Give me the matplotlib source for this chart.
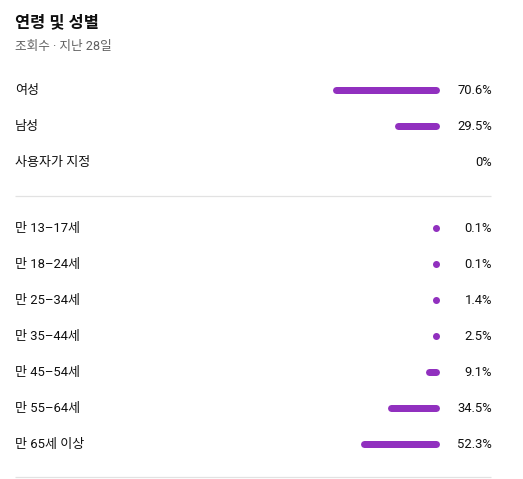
import matplotlib
matplotlib.use("Agg")
import matplotlib.pyplot as plt

title = "연령 및 성별"
subtitle = "조회수 · 지난 28일"
gender_labels = ["여성", "남성", "사용자가 지정"]
gender_values = [70.6, 29.5, 0.0]
age_labels = ["만 13–17세", "만 18–24세", "만 25–34세", "만 35–44세",
              "만 45–54세", "만 55–64세", "만 65세 이상"]
age_values = [0.1, 0.1, 1.4, 2.5, 9.1, 34.5, 52.3]
value_labels_gender = ["70.6%", "29.5%", "0%"]
value_labels_age = ["0.1%", "0.1%", "1.4%", "2.5%", "9.1%", "34.5%", "52.3%"]

W, H = 523, 479
DPI = 100
fig = plt.figure(figsize=(W / DPI, H / DPI), dpi=DPI)
fig.patch.set_facecolor("white")
ax = fig.add_axes([0, 0, 1, 1])
ax.set_axis_off()

# scale: 1 percent = 1.52 px, bars end at pixel 439 and grow leftwards
PX_PER = 1.52
BAR_END = 439.5
ax.set_xlim(BAR_END / PX_PER, (BAR_END - W) / PX_PER)
ax.set_ylim(H, 0)

def px(x):
    return (BAR_END - x) / PX_PER

FONT = ["Roboto", "Noto Sans CJK KR", "DejaVu Sans"]
BAR_COLOR = "#9130BF"
TEXT = "#0f0f0f"
LW_PX = 7.0
lw_pt = LW_PX * 72 / DPI
cap = (LW_PX / 2) / PX_PER

ax.text(px(15), 22.5, title, fontsize=11.8, fontweight="bold", color=TEXT,
        family=FONT, ha="left", va="center")
ax.text(px(15), 46.5, subtitle, fontsize=9.1, color="#606060",
        family=FONT, ha="left", va="center")

def draw_rows(labels, values, vlabels, y0, step):
    for i, (lab, v, vl) in enumerate(zip(labels, values, vlabels)):
        y = y0 + i * step
        ax.text(px(15), y + 1, lab, fontsize=9.4, color=TEXT, family=FONT,
                ha="left", va="center")
        ax.text(px(492), y + 1, vl, fontsize=9.4, color=TEXT, family=FONT,
                ha="right", va="center")
        if v <= 0:
            continue
        length = v - 2 * cap
        if length > 0:
            ax.plot([cap, cap + length], [y, y], color=BAR_COLOR,
                    linewidth=lw_pt, solid_capstyle="round")
        else:
            ax.plot([cap], [y], marker="o", markersize=lw_pt,
                    color=BAR_COLOR, markeredgewidth=0, linestyle="none")

draw_rows(gender_labels, gender_values, value_labels_gender, 89.5, 36)
draw_rows(age_labels, age_values, value_labels_age, 227.5, 36)

for yl in (195.5, 476.5):
    ax.plot([px(15), px(491)], [yl, yl], color="#e2e2e2", linewidth=0.9,
            solid_capstyle="butt")

fig.savefig("out.png", dpi=DPI, facecolor="white")
